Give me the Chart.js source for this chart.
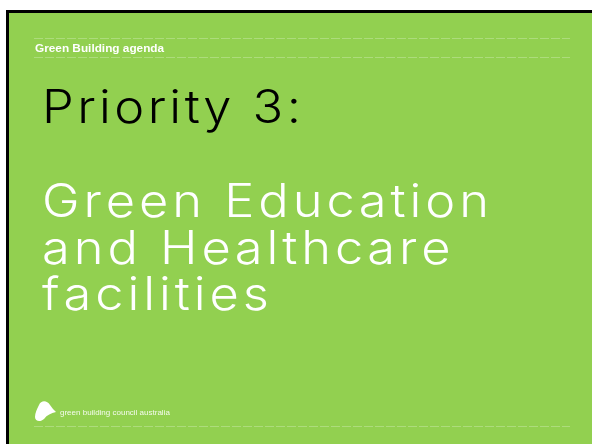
<!DOCTYPE html>
<html>
<head>
<meta charset="utf-8">
<script src="https://cdn.jsdelivr.net/npm/chart.js@4.4.1/dist/chart.umd.min.js"></script>
<style>
  html, body { margin: 0; padding: 0; background: #fff; }
  #wrap { width: 592px; height: 444px; }
</style>
</head>
<body>
<div id="wrap"><canvas id="slide" width="592" height="444"></canvas></div>
<script>
// slide texts
var headerText = "Green Building agenda";
var titleLines = ["Priority 3:"];
var subtitleLines = ["Green Education", "and Healthcare", "facilities"];
var footerText = "green building council australia";

var green = "#92d050";
var stretch = 1.1;

// spacing so that a line fills a given width
function fitSpacing(ctx, text, width) {
  var w = 0;
  for (var i = 0; i < text.length; i++) w += ctx.measureText(text[i]).width * stretch;
  return (width - w) / (text.length - 1);
}

// draws text one character at a time, stretched and spaced
function spacedText(ctx, text, x, y, spacing) {
  for (var i = 0; i < text.length; i++) {
    ctx.save();
    ctx.translate(x, y);
    ctx.scale(stretch, 1);
    ctx.fillText(text[i], 0, 0);
    ctx.restore();
    x += ctx.measureText(text[i]).width * stretch + spacing;
  }
}

function dashedLine(ctx, y) {
  ctx.save();
  ctx.strokeStyle = "rgba(255,255,255,0.25)";
  ctx.lineWidth = 1;
  ctx.setLineDash([9, 2]);
  ctx.beginPath();
  ctx.moveTo(34, y + 0.5);
  ctx.lineTo(570, y + 0.5);
  ctx.stroke();
  ctx.restore();
}

var slidePlugin = {
  id: "slide",
  beforeDraw: function(chart) {
    var ctx = chart.ctx;
    ctx.save();
    ctx.fillStyle = "#ffffff";
    ctx.fillRect(0, 0, 592, 444);
    ctx.fillStyle = "#000000";
    ctx.fillRect(6, 10, 600, 450);
    ctx.fillStyle = green;
    ctx.fillRect(9, 13, 600, 450);

    dashedLine(ctx, 38);
    dashedLine(ctx, 57);
    dashedLine(ctx, 426);

    ctx.textBaseline = "alphabetic";
    ctx.textAlign = "left";
    ctx.fillStyle = "#ffffff";
    ctx.font = "bold 11.8px 'Liberation Sans', Arial, sans-serif";
    ctx.fillText(headerText, 35, 52);

    ctx.font = "300 46px Inter, sans-serif";
    ctx.fillStyle = "#000000";
    var s1 = fitSpacing(ctx, titleLines[0], 259);
    titleLines.forEach(function(t, i) {
      spacedText(ctx, t, 42, 123 + i * 46.5, s1);
    });
    ctx.fillStyle = "#ffffff";
    var s2 = fitSpacing(ctx, subtitleLines[0], 447);
    subtitleLines.forEach(function(t, i) {
      spacedText(ctx, t, 42, 217 + i * 46.5, s2);
    });

    // logo leaf
    ctx.beginPath();
    ctx.moveTo(39, 405);
    ctx.bezierCurveTo(41, 400, 47, 400, 50, 405);
    ctx.bezierCurveTo(52, 408, 54, 410, 56, 412);
    ctx.bezierCurveTo(51, 413, 47, 415, 44, 419);
    ctx.bezierCurveTo(41, 422, 35, 422, 35, 417);
    ctx.bezierCurveTo(35, 413, 37, 409, 39, 405);
    ctx.fill();

    ctx.font = "8px 'Liberation Sans', Arial, sans-serif";
    ctx.fillStyle = "rgba(255,255,255,0.9)";
    ctx.fillText(footerText, 60, 415);
    ctx.restore();
  }
};

new Chart(document.getElementById("slide"), {
  type: "scatter",
  data: { datasets: [{ data: [] }] },
  options: {
    responsive: false,
    animation: false,
    events: [],
    layout: { padding: 0 },
    plugins: { legend: { display: false }, tooltip: { enabled: false } },
    scales: { x: { display: false }, y: { display: false } }
  },
  plugins: [slidePlugin]
});
</script>
</body>
</html>
